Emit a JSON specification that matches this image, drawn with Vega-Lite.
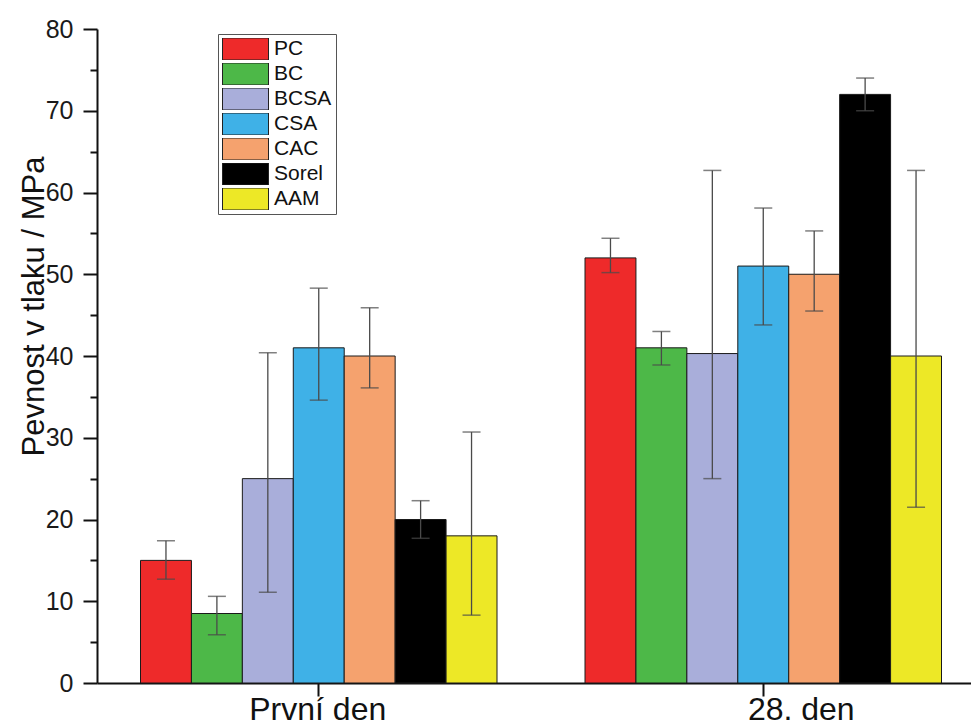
{
  "$schema": "https://vega.github.io/schema/vega-lite/v6.json",
  "width": 874,
  "height": 654,
  "autosize": {"type": "none"},
  "padding": {"left": 97, "top": 29, "right": 0, "bottom": 44},
  "background": "white",
  "config": {"view": {"stroke": null}},
  "data": {
    "values": [
      {"day": "První den", "material": "PC", "value": 15, "lo": 12.7, "hi": 17.4},
      {"day": "První den", "material": "BC", "value": 8.5, "lo": 5.9, "hi": 10.6},
      {"day": "První den", "material": "BCSA", "value": 25, "lo": 11.1, "hi": 40.4},
      {"day": "První den", "material": "CSA", "value": 41, "lo": 34.6, "hi": 48.3},
      {"day": "První den", "material": "CAC", "value": 40, "lo": 36.1, "hi": 45.9},
      {"day": "První den", "material": "Sorel", "value": 20, "lo": 17.7, "hi": 22.3},
      {"day": "První den", "material": "AAM", "value": 18, "lo": 8.3, "hi": 30.7},
      {"day": "28. den", "material": "PC", "value": 52, "lo": 50.2, "hi": 54.4},
      {"day": "28. den", "material": "BC", "value": 41, "lo": 38.9, "hi": 43.0},
      {"day": "28. den", "material": "BCSA", "value": 40.3, "lo": 25.0, "hi": 62.7},
      {"day": "28. den", "material": "CSA", "value": 51, "lo": 43.8, "hi": 58.1},
      {"day": "28. den", "material": "CAC", "value": 50, "lo": 45.5, "hi": 55.3},
      {"day": "28. den", "material": "Sorel", "value": 72, "lo": 70.0, "hi": 74.0},
      {"day": "28. den", "material": "AAM", "value": 40, "lo": 21.5, "hi": 62.7}
    ]
  },
  "encoding": {
    "x": {
      "field": "day",
      "type": "nominal",
      "sort": ["První den", "28. den"],
      "title": null,
      "scale": {"paddingInner": 0.198, "paddingOuter": 0.0821, "align": 0.596},
      "axis": {
        "labelAngle": 0,
        "labelFont": "Liberation Sans",
        "labelFontSize": 32,
        "labelColor": "#111",
        "labelBaseline": "alphabetic",
        "labelPadding": 23,
        "labelOffset": {"condition": {"test": "datum.value === '28. den'", "value": 38}, "value": -1},
        "domainColor": "#111",
        "domainWidth": 2,
        "tickColor": "#111",
        "tickWidth": 2,
        "tickSize": 13
      }
    },
    "xOffset": {
      "field": "material",
      "type": "nominal",
      "sort": ["PC", "BC", "BCSA", "CSA", "CAC", "Sorel", "AAM"],
      "scale": {"paddingInner": 0, "paddingOuter": 0}
    }
  },
  "layer": [
    {
      "mark": {"type": "bar", "stroke": "#1a1a1a", "strokeWidth": 1},
      "encoding": {
        "y": {
          "field": "value",
          "type": "quantitative",
          "scale": {"domain": [0, 80], "nice": false},
          "axis": {
            "values": [0, 5, 10, 15, 20, 25, 30, 35, 40, 45, 50, 55, 60, 65, 70, 75, 80],
            "labelExpr": "datum.value % 10 === 0 ? datum.label : ''",
            "tickSize": {"condition": {"test": "datum.value % 10 === 0", "value": 14}, "value": 7},
            "tickWidth": 2,
            "tickColor": "#111",
            "domainColor": "#111",
            "domainWidth": 2,
            "grid": false,
            "labelFont": "Liberation Sans",
            "labelFontSize": 25,
            "labelColor": "#1a1a1a",
            "labelPadding": 10,
            "title": "Pevnost v tlaku / MPa",
            "titleFont": "Liberation Sans",
            "titleFontSize": 31,
            "titleFontWeight": "normal",
            "titleColor": "#111",
            "titleX": -54,
            "titleY": 277,
            "titleBaseline": "alphabetic"
          }
        },
        "color": {
          "field": "material",
          "type": "nominal",
          "sort": ["PC", "BC", "BCSA", "CSA", "CAC", "Sorel", "AAM"],
          "scale": {
            "domain": ["PC", "BC", "BCSA", "CSA", "CAC", "Sorel", "AAM"],
            "range": ["#EE2A2A", "#4DB848", "#A9AEDA", "#3FB1E7", "#F5A26E", "#000000", "#EDE826"]
          },
          "legend": {
            "title": null,
            "orient": "none",
            "legendX": 121,
            "legendY": 5,
            "symbolType": "M-1,-0.478L1,-0.478L1,0.478L-1,0.478Z",
            "symbolSize": 2116,
            "symbolStrokeColor": "#222",
            "symbolStrokeWidth": 1,
            "symbolOpacity": 1,
            "clipHeight": 22,
            "rowPadding": 3,
            "labelOffset": 5,
            "labelFont": "Liberation Sans",
            "labelFontSize": 21,
            "labelColor": "#111",
            "padding": 4,
            "strokeColor": "#555",
            "fillColor": "white"
          }
        }
      }
    },
    {
      "mark": {"type": "rule", "color": "#4a4a4a", "strokeWidth": 1.3},
      "encoding": {
        "y": {"field": "lo", "type": "quantitative"},
        "y2": {"field": "hi"}
      }
    },
    {
      "mark": {"type": "tick", "color": "#4a4a4a", "size": 18, "thickness": 1.5},
      "encoding": {"y": {"field": "lo", "type": "quantitative"}}
    },
    {
      "mark": {"type": "tick", "color": "#4a4a4a", "size": 18, "thickness": 1.5},
      "encoding": {"y": {"field": "hi", "type": "quantitative"}}
    }
  ]
}
